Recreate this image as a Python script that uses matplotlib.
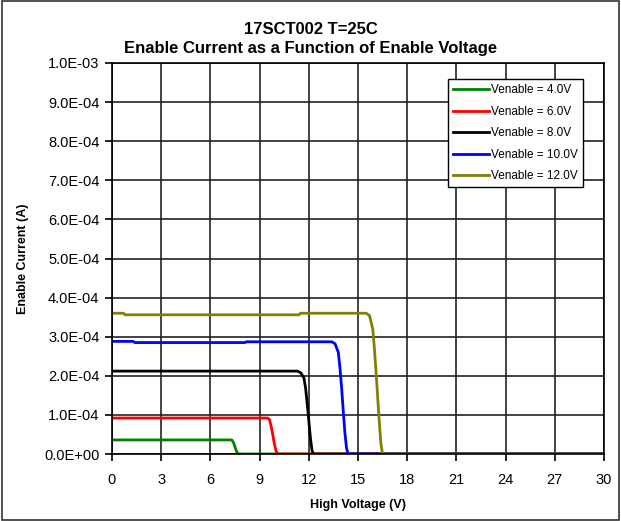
import matplotlib
matplotlib.use("Agg")
import matplotlib.pyplot as plt
from matplotlib.ticker import FuncFormatter, MultipleLocator

plt.rcParams["font.family"] = ["Liberation Sans", "DejaVu Sans"]

# High voltage (V) and enable current (A) per Venable curve
v4_x = [0.0, 7.3, 7.4, 7.5, 7.6, 7.7, 30.0]
v4_y = [3.6e-5, 3.6e-5, 3.0e-5, 1.8e-5, 0.6e-5, 0.0, 0.0]

v6_x = [0.0, 9.5, 9.6, 9.7, 9.8, 9.9, 10.0, 10.1, 30.0]
v6_y = [9.2e-5, 9.2e-5, 8.8e-5, 7.2e-5, 5.0e-5, 2.6e-5, 0.8e-5, 0.0, 0.0]

v8_x = [0.0, 11.3, 11.5, 11.7, 11.8, 11.9, 12.0, 12.1, 12.2, 12.3, 30.0]
v8_y = [2.12e-4, 2.12e-4, 2.08e-4, 1.95e-4, 1.70e-4, 1.30e-4, 0.85e-4, 0.40e-4, 0.08e-4, 0.0, 0.0]

v10_x = [0.0, 1.3, 1.4, 8.1, 8.2, 13.4, 13.6, 13.8, 13.9, 14.0, 14.1, 14.2, 14.3, 14.4, 30.0]
v10_y = [2.88e-4, 2.88e-4, 2.85e-4, 2.85e-4, 2.87e-4, 2.87e-4, 2.82e-4, 2.60e-4, 2.20e-4,
         1.70e-4, 1.10e-4, 0.55e-4, 0.15e-4, 0.0, 0.0]

v12_x = [0.0, 0.7, 0.8, 11.4, 11.5, 15.5, 15.7, 15.9, 16.0, 16.1, 16.2, 16.3, 16.4, 16.5, 30.0]
v12_y = [3.60e-4, 3.60e-4, 3.56e-4, 3.56e-4, 3.60e-4, 3.60e-4, 3.54e-4, 3.20e-4, 2.70e-4,
         2.10e-4, 1.45e-4, 0.80e-4, 0.25e-4, 0.0, 0.0]

series = [
    (v4_x, v4_y, "#008000", "Venable = 4.0V"),
    (v6_x, v6_y, "#ff0000", "Venable = 6.0V"),
    (v8_x, v8_y, "#000000", "Venable = 8.0V"),
    (v10_x, v10_y, "#0000ff", "Venable = 10.0V"),
    (v12_x, v12_y, "#808000", "Venable = 12.0V"),
]


def sci_label(v, _pos):
    if abs(v) < 1e-12:
        return "0.0E+00"
    mant, exp = f"{v:.1E}".split("E")
    return f"{mant}E-{abs(int(exp)):02d}"


fig = plt.figure(figsize=(6.21, 5.21), dpi=100)
fig.patches.append(plt.Rectangle((0.004, 0.002), 0.993, 0.996, transform=fig.transFigure,
                                 fill=False, edgecolor="#333333", linewidth=1.2))
ax = fig.add_axes([112 / 621, 1 - 454 / 521, 492 / 621, 391 / 521])

for x, y, c, lab in series:
    ax.plot(x, y, color=c, linewidth=2, label=lab)

ax.set_xlim(0, 30)
ax.set_ylim(0, 1.0e-3)
ax.xaxis.set_major_locator(MultipleLocator(3))
ax.yaxis.set_major_locator(MultipleLocator(1e-4))
ax.yaxis.set_major_formatter(FuncFormatter(sci_label))
ax.grid(True, color="#222222", linewidth=1.2)
ax.tick_params(direction="out", length=5, width=1.2, labelsize=10.5)
ax.tick_params(axis="x", pad=9)
ax.tick_params(axis="y", pad=4)
for s in ax.spines.values():
    s.set_linewidth(1.2)

ax.set_xlabel("High Voltage (V)", fontsize=9, fontweight="bold", labelpad=8)
ax.set_ylabel("Enable Current (A)", fontsize=9, fontweight="bold", labelpad=11)
fig.text(0.5, 1 - 29 / 521, "17SCT002 T=25C", ha="center", va="center",
         fontsize=12, fontweight="bold")
fig.text(0.5, 1 - 49 / 521, "Enable Current as a Function of Enable Voltage",
         ha="center", va="center", fontsize=12, fontweight="bold")

leg = ax.legend(loc="upper right", bbox_to_anchor=(0.957, 0.959), borderaxespad=0,
                fontsize=8.5, handlelength=3.0, handletextpad=0.15, labelspacing=0.8,
                borderpad=0.45, fancybox=False, framealpha=1, edgecolor="black")
leg.get_frame().set_linewidth(1.0)

fig.savefig("out.png", dpi=100)
